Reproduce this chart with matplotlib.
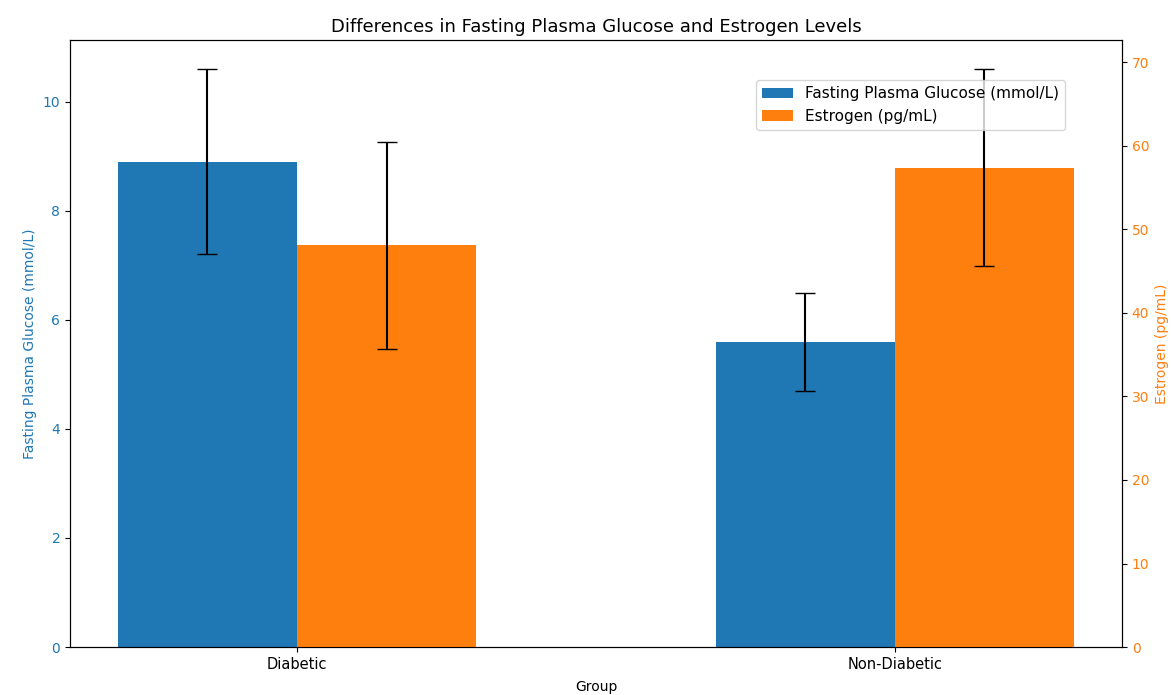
import numpy as np
import matplotlib
matplotlib.use('Agg')
import matplotlib.pyplot as plt

# 数据
groups = ['Diabetic', 'Non-Diabetic']
glucose_mean = [8.9, 5.6]
glucose_sd = [1.7, 0.9]
estrogen_mean = [48.1, 57.4]
estrogen_sd = [12.4, 11.8]

fig = plt.figure(figsize=(11.71, 6.95), dpi=100)
ax1 = fig.add_axes([0.0598, 0.069, 0.8983, 0.8734])
ax2 = ax1.twinx()

x = np.arange(len(groups))
width = 0.3

ax1.bar(x - width / 2, glucose_mean, width, yerr=glucose_sd, capsize=7,
        color='tab:blue', ecolor='black', label='Fasting Plasma Glucose (mmol/L)')
ax2.bar(x + width / 2, estrogen_mean, width, yerr=estrogen_sd, capsize=7,
        color='tab:orange', ecolor='black', label='Estrogen (pg/mL)')

ax1.set_xlabel('Group', labelpad=6)
ax1.set_ylabel('Fasting Plasma Glucose (mmol/L)', color='tab:blue')
ax2.set_ylabel('Estrogen (pg/mL)', color='tab:orange')
ax1.tick_params(axis='y', labelcolor='tab:blue')
ax2.tick_params(axis='y', labelcolor='tab:orange')
ax1.set_xticks(x)
ax1.set_xticklabels(groups, fontsize=10.5)

ax1.set_title('Differences in Fasting Plasma Glucose and Estrogen Levels', fontsize=13)

h1, l1 = ax1.get_legend_handles_labels()
h2, l2 = ax2.get_legend_handles_labels()
ax2.legend(h1 + h2, l1 + l2, loc='upper right', bbox_to_anchor=(0.946, 0.934),
           borderaxespad=0, fontsize=11)

fig.savefig('out.png', dpi=100)
